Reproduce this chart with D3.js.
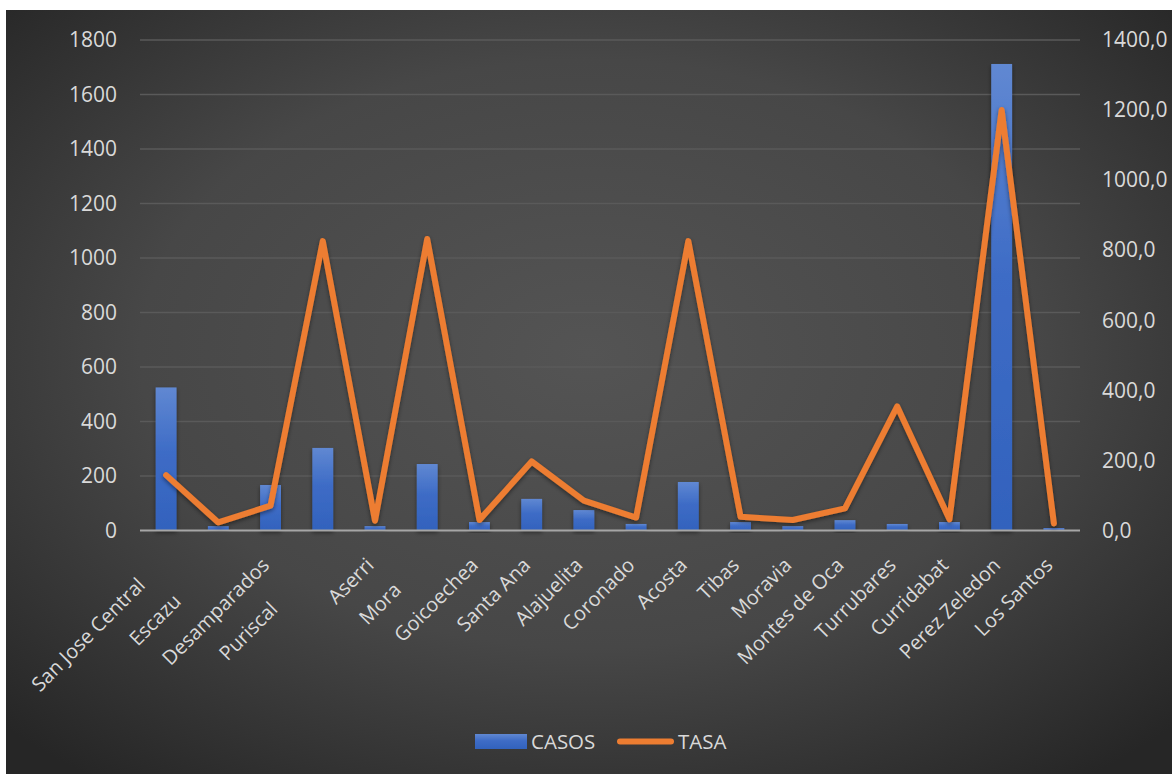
<!DOCTYPE html>
<html>
<head>
  <meta charset="utf-8">
  <style>
    body {
      margin: 0;
      background: #fff;
    }

    svg {
      display: block;
      font-family: "Open Sans", "Noto Sans", sans-serif;
    }

    .grid line {
      stroke: #5a5a5a;
      stroke-width: 1.5;
    }

    .tick text {
      fill: #d9d9d9;
    }
  </style>
  <script src="https://cdn.jsdelivr.net/npm/d3@7"></script>
</head>

<body>
  <script>
    // data
    const municipios = [
      "San Jose Central", "Escazu", "Desamparados", "Puriscal", "Aserri", "Mora",
      "Goicoechea", "Santa Ana", "Alajuelita", "Coronado", "Acosta", "Tibas",
      "Moravia", "Montes de Oca", "Turrubares", "Curridabat", "Perez Zeledon", "Los Santos"
    ];
    const casos = [525, 16, 167, 303, 16, 244, 31, 116, 75, 24, 178, 31, 16, 38, 24, 31, 1712, 9];
    const tasa = [158, 23, 71, 826, 28, 832, 30, 197, 85, 37, 826, 39, 30, 63, 354, 32, 1200, 20];
    const leftTicks = [0, 200, 400, 600, 800, 1000, 1200, 1400, 1600, 1800];
    const rightTicks = [0, 200, 400, 600, 800, 1000, 1200, 1400];

    const width = 1172;
    const height = 774;
    const margin = { top: 40, right: 92, bottom: 243.5, left: 140 };

    // some labels sit further down-left along their slant in the original
    const labelShift = { "San Jose Central": 28, "Escazu": 51, "Puriscal": 62, "Mora": 35 };

    const svg = d3.select("body")
      .append("svg")
      .attr("width", width)
      .attr("height", height);

    const defs = svg.append("defs");

    const bg = defs.append("radialGradient")
      .attr("id", "bg")
      .attr("cx", "50%").attr("cy", "45%").attr("r", "70%");
    bg.append("stop").attr("offset", "0%").attr("stop-color", "#545454");
    bg.append("stop").attr("offset", "55%").attr("stop-color", "#474747");
    bg.append("stop").attr("offset", "100%").attr("stop-color", "#262626");

    const barGrad = defs.append("linearGradient")
      .attr("id", "barGrad")
      .attr("x1", 0).attr("y1", 0).attr("x2", 0).attr("y2", 1);
    barGrad.append("stop").attr("offset", "0%").attr("stop-color", "#6088d2");
    barGrad.append("stop").attr("offset", "45%").attr("stop-color", "#3e6cc6");
    barGrad.append("stop").attr("offset", "100%").attr("stop-color", "#3262bd");

    const shadow = defs.append("filter").attr("id", "shadow")
      .attr("x", "-20%").attr("y", "-20%").attr("width", "140%").attr("height", "140%");
    shadow.append("feDropShadow")
      .attr("dx", 0).attr("dy", 2).attr("stdDeviation", 2)
      .attr("flood-color", "#000").attr("flood-opacity", 0.45);

    svg.append("rect")
      .attr("x", 6).attr("y", 10)
      .attr("width", width - 6).attr("height", height - 10)
      .attr("fill", "url(#bg)");

    const x = d3.scaleBand()
      .domain(municipios)
      .range([margin.left, width - margin.right])
      .paddingInner(0.6)
      .paddingOuter(0.3);

    const yLeft = d3.scaleLinear()
      .domain([0, 1800])
      .range([height - margin.bottom, margin.top]);

    const yRight = d3.scaleLinear()
      .domain([0, 1400])
      .range([height - margin.bottom, margin.top]);

    // gridlines
    svg.append("g")
      .attr("class", "grid")
      .selectAll("line")
      .data(leftTicks.filter(d => d > 0))
      .join("line")
      .attr("x1", margin.left)
      .attr("x2", width - margin.right)
      .attr("y1", d => yLeft(d))
      .attr("y2", d => yLeft(d));

    // bars
    svg.append("g")
      .selectAll("rect")
      .data(municipios)
      .join("rect")
      .attr("x", d => x(d))
      .attr("width", x.bandwidth())
      .attr("y", (d, i) => yLeft(casos[i]))
      .attr("height", (d, i) => yLeft(0) - yLeft(casos[i]))
      .attr("fill", "url(#barGrad)")
      .attr("filter", "url(#shadow)");

    // zero axis line
    svg.append("line")
      .attr("x1", margin.left)
      .attr("x2", width - margin.right)
      .attr("y1", yLeft(0))
      .attr("y2", yLeft(0))
      .attr("stroke", "#a6a6a6")
      .attr("stroke-width", 2);

    // tasa line
    const line = d3.line()
      .x((d, i) => x(municipios[i]) + x.bandwidth() / 2)
      .y(d => yRight(d));

    svg.append("path")
      .datum(tasa)
      .attr("d", line)
      .attr("fill", "none")
      .attr("stroke", "#ed7d31")
      .attr("stroke-width", 6)
      .attr("stroke-linejoin", "round")
      .attr("stroke-linecap", "round")
      .attr("filter", "url(#shadow)");

    // left axis
    const gl = svg.append("g")
      .attr("transform", `translate(${margin.left},0)`)
      .call(d3.axisLeft(yLeft).tickValues(leftTicks).tickFormat(d3.format("d")).tickSize(0).tickPadding(23));
    gl.select(".domain").remove();
    gl.selectAll("text").attr("font-size", 21).attr("font-family", "\"Open Sans\", sans-serif");

    // right axis
    const fmt = d => d3.format(".1f")(d).replace(".", ",");
    const gr = svg.append("g")
      .attr("transform", `translate(${width - margin.right},0)`)
      .call(d3.axisRight(yRight).tickValues(rightTicks).tickFormat(fmt).tickSize(0).tickPadding(22));
    gr.select(".domain").remove();
    gr.selectAll("text").attr("font-size", 21).attr("font-family", "\"Open Sans\", sans-serif");

    // category labels
    const gx = svg.append("g")
      .attr("transform", `translate(0,${yLeft(0)})`)
      .call(d3.axisBottom(x).tickSize(0).tickPadding(0));
    gx.select(".domain").remove();
    gx.selectAll("text")
      .attr("font-size", 20)
      .attr("font-family", "\"Open Sans\", sans-serif")
      .attr("text-anchor", "end")
      .attr("dy", 0)
      .attr("transform", d => `translate(0,36) rotate(-45) translate(${-(labelShift[d] || 0)},0)`);

    // legend
    const legend = svg.append("g").attr("transform", "translate(475,741.5)");
    legend.append("rect")
      .attr("x", 0).attr("y", -7.5)
      .attr("width", 52).attr("height", 15)
      .attr("fill", "url(#barGrad)");
    legend.append("text")
      .attr("x", 56).attr("y", 7.5)
      .attr("fill", "#d9d9d9")
      .attr("font-size", 20.5)
      .text("CASOS");
    legend.append("line")
      .attr("x1", 145).attr("x2", 196)
      .attr("stroke", "#ed7d31")
      .attr("stroke-width", 6)
      .attr("stroke-linecap", "round");
    legend.append("text")
      .attr("x", 203).attr("y", 7.5)
      .attr("fill", "#d9d9d9")
      .attr("font-size", 20.5)
      .text("TASA");
  </script>
</body>
</html>
